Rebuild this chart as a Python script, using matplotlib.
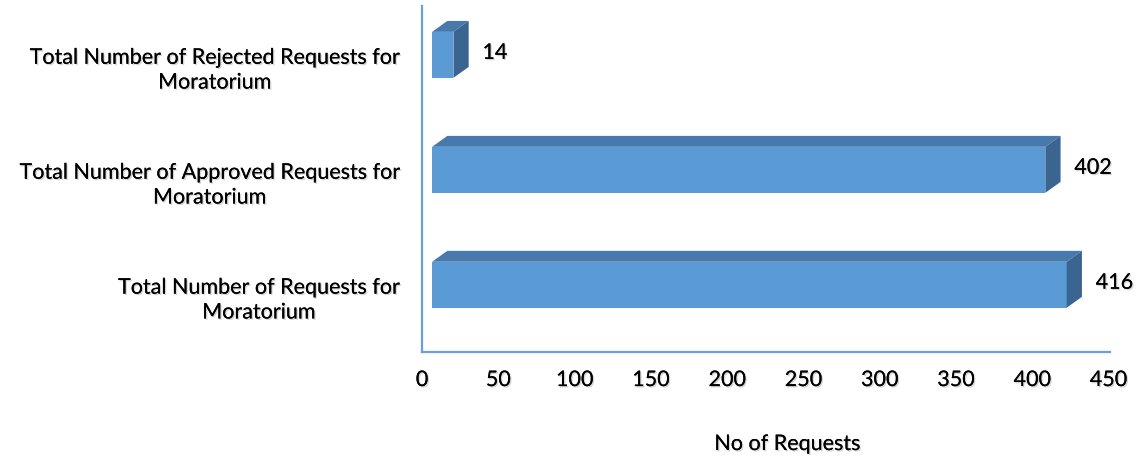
import matplotlib
matplotlib.use("Agg")
import matplotlib.pyplot as plt
from matplotlib.patches import Polygon
import matplotlib.patheffects as pe

# data
categories = [
    "Total Number of Requests for\nMoratorium",
    "Total Number of Approved Requests for\nMoratorium",
    "Total Number of Rejected Requests for\nMoratorium",
]
values = [416, 402, 14]
xticks = [0, 50, 100, 150, 200, 250, 300, 350, 400, 450]

# colours / 3d look
front_col = "#5B9BD5"
top_col = "#4779AC"
side_col = "#3A6590"
axis_col = "#6A9FD8"
x_shift = 6.6     # front face sits a bit right of the axis
depth_x = 10.0    # depth of the bar, data units
depth_y = 0.095
bar_h = 0.40
lift = 0.095      # bars sit slightly above the category centre
fs = 15.5

plt.rcParams["font.family"] = ["Lato", "DejaVu Sans"]
shadow = [pe.withSimplePatchShadow(offset=(1, -1), shadow_rgbFace="#888888", alpha=0.35), pe.Normal()]

fig = plt.figure(figsize=(11.43, 4.64), dpi=100)
ax = fig.add_axes([422 / 1143, 1 - 353 / 464, 688 / 1143, 346 / 464])

ypos = list(range(len(values)))
for y, v in zip(ypos, values):
    yc = y + lift
    bottom = yc - bar_h / 2
    top = yc + bar_h / 2
    x0 = x_shift
    x1 = x_shift + v
    ax.barh(yc, v, height=bar_h, left=x0, color=front_col, edgecolor="none", zorder=3)
    ax.add_patch(Polygon([(x0, top), (x0 + depth_x, top + depth_y), (x1 + depth_x, top + depth_y), (x1, top)],
                         closed=True, facecolor=top_col, edgecolor="none", zorder=3))
    ax.add_patch(Polygon([(x1, bottom), (x1, top), (x1 + depth_x, top + depth_y), (x1 + depth_x, bottom + depth_y)],
                         closed=True, facecolor=side_col, edgecolor="none", zorder=3))
    t = ax.annotate(str(v), xy=(x1, yc), xytext=(29, 2), textcoords="offset pixels",
                    ha="left", va="center", fontsize=fs, color="black")
    t.set_path_effects(shadow)

ax.set_xlim(0, 451)
ax.set_ylim(-0.49, 2.52)
ax.set_xticks(xticks)
ax.set_xticklabels([str(x) for x in xticks])
ax.set_yticks(ypos)
ax.set_yticklabels(categories, multialignment="center", linespacing=1.3)
ax.tick_params(axis="both", length=0, labelsize=fs)
ax.tick_params(axis="x", pad=13)
ax.tick_params(axis="y", pad=16)
for lab in ax.get_xticklabels() + ax.get_yticklabels():
    lab.set_path_effects(shadow)

for s in ["top", "right"]:
    ax.spines[s].set_visible(False)
for s in ["left", "bottom"]:
    ax.spines[s].set_color(axis_col)
    ax.spines[s].set_linewidth(1.6)

ax.set_xlabel("No of Requests", fontsize=fs)
ax.xaxis.set_label_coords(0.531, -0.266)
ax.xaxis.label.set_va("center")
ax.xaxis.label.set_path_effects(shadow)

fig.savefig("out.png", dpi=100)
